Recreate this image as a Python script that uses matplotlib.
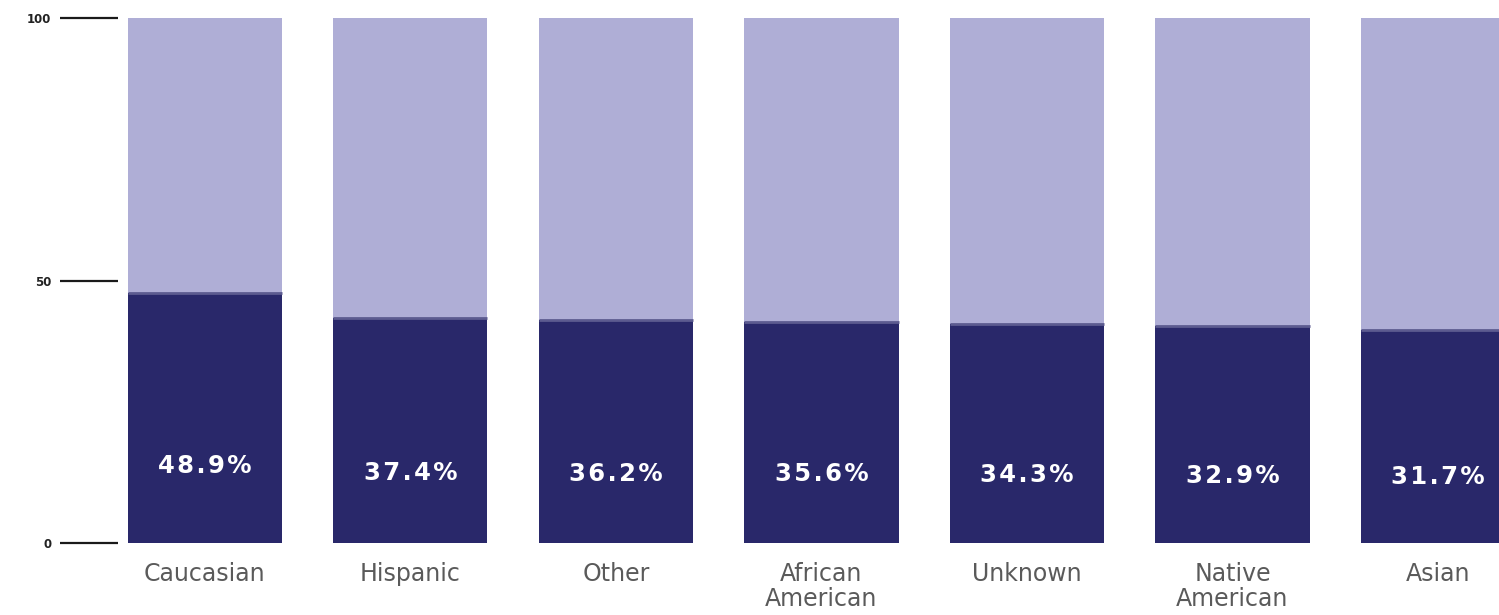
import matplotlib
matplotlib.use("Agg")
import matplotlib.pyplot as plt
import numpy as np

categories = ["Caucasian", "Hispanic", "Other", "African\nAmerican", "Unknown", "Native\nAmerican", "Asian"]
dark_heights = [47.6, 42.9, 42.5, 42.1, 41.7, 41.3, 40.6]
value_labels = ["48.9%", "37.4%", "36.2%", "35.6%", "34.3%", "32.9%", "31.7%"]
total = 100
yticks = [0, 50, 100]

DARK = "#29286a"
LIGHT = "#afaed6"

fig = plt.figure(figsize=(14.99, 6.15), dpi=100)
W, H = 1499, 615
ax = fig.add_axes([118 / W, 72 / H, 1 - 118 / W, 525 / H])

x = np.arange(len(categories))
width = 0.75
ax.bar(x, dark_heights, width=width, color=DARK, linewidth=0)
ax.bar(x, [total - d for d in dark_heights], bottom=dark_heights, width=width, color=LIGHT, linewidth=0)
# boundary line between segments
for xi, d in zip(x, dark_heights):
    ax.plot([xi - width / 2, xi + width / 2], [d, d], color="#5c5b90", lw=2, solid_capstyle="butt")

for xi, d, lab in zip(x, dark_heights, value_labels):
    ax.text(xi, d * 0.31, "\u200a".join(lab), ha="center", va="center", color="white",
            fontsize=17.5, fontweight="bold", family="DejaVu Sans")

ax.set_xlim(-0.423, 6.297)
ax.set_ylim(0, 100)
for s in ax.spines.values():
    s.set_visible(False)

ax.set_yticks(yticks)
ax.set_yticklabels([str(t) for t in yticks], fontsize=8.5, fontweight="bold", color="#222222")
ax.tick_params(axis="y", length=42, width=1.6, color="#1a1a1a", pad=6)

ax.set_xticks(x)
ax.set_xticklabels(categories, fontsize=17, color="#5a5a5a", family="DejaVu Sans", linespacing=1.05)
ax.tick_params(axis="x", length=0, pad=14)

fig.savefig("out.png", dpi=100)
